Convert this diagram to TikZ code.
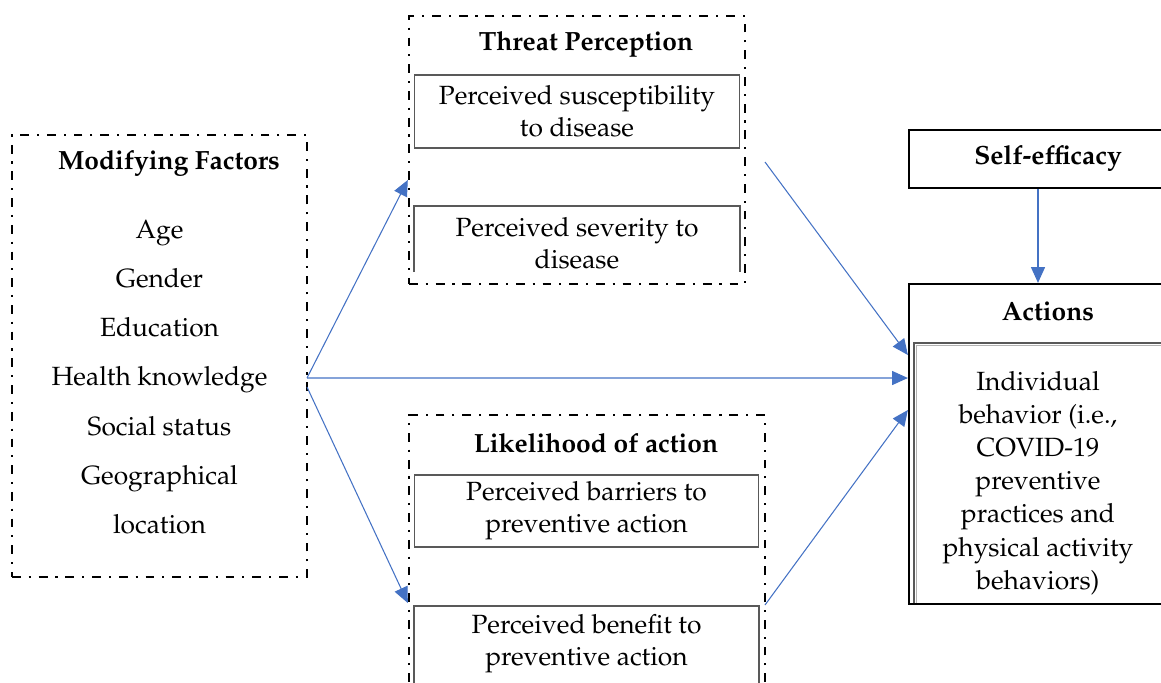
\documentclass[tikz,border=0pt]{standalone}
\usepackage[T1]{fontenc}
\usepackage{mathpazo}
\usetikzlibrary{positioning, calc, arrows.meta}
\definecolor{linkblue}{HTML}{4472C4}
\definecolor{boxgrey}{HTML}{595959}

\begin{document}
\begin{tikzpicture}[x=0.02cm, y=-0.02cm,
    frame/.style={draw, line width=1.4pt, dash pattern=on 5pt off 4.5pt on 1.2pt off 4.5pt, inner sep=0pt},
    solidbox/.style={draw, line width=1.3pt, inner sep=0pt},
    inbox/.style={draw=boxgrey, line width=0.6pt, inner sep=0pt, align=center, font=\fontsize{15}{18.1}\selectfont},
    txt/.style={align=center, inner sep=0pt, font=\fontsize{15}{18.9}\selectfont},
    title/.style={inner sep=0pt, font=\fontsize{15}{18}\selectfont\bfseries},
    link/.style={draw=linkblue, line width=0.6pt, -{Triangle[length=9pt, width=8pt]}}]
			\useasboundingbox (0,0) rectangle (1161,683);
			\clip (0,0) rectangle (1161,683);

			% outer frames
			\node[frame, minimum width=5.9cm, minimum height=8.84cm] (mod) at (159.5,356) {};
			\node[frame, minimum width=6.72cm, minimum height=5.36cm] (threat) at (577,150) {};
			\node[frame, minimum width=7.12cm, minimum height=5.7cm] (like) at (587,557.5) {};
			\node[solidbox, minimum width=5.56cm, minimum height=1.16cm] (self) at (1048,159) {};
			\node[solidbox, minimum width=5.56cm, minimum height=6.4cm] (act) at (1048,444) {};

			% titles
			\node[title] (modt) at (169,163) {Modifying Factors};
			\node[title] (threatt) at (586,44) {Threat Perception};
			\node[title] (liket) at (596,443) {Likelihood of action};
			\node[title] (selft) at (1048,158) {Self-efficacy};
			\node[title] (actt) at (1048,311) {Actions};

			% contents
			\node[txt, font=\fontsize{15}{28}\selectfont] (modlist) at (159.5,377) {Age\\Gender\\Education\\Health knowledge\\Social status\\Geographical\\location};
			\node[inbox, minimum width=6.52cm, minimum height=1.46cm] (sus) at (577,111.5) {Perceived susceptibility\\to disease};
			\node[inbox, draw=none] (sev) at (577,243.5) {Perceived severity to\\disease};
			\draw[boxgrey, line width=0.6pt] (414,272) |- (740,206) -- (740,272);
			\node[inbox, minimum width=6.9cm, minimum height=1.44cm] (bar) at (586.5,511) {Perceived barriers to\\preventive action};
			\node[inbox, draw=none] (ben) at (586.5,643.5) {Perceived benefit to\\preventive action};
			\draw[boxgrey, line width=0.6pt] (414,700) |- (759,606) -- (759,700);
			\draw[boxgrey, line width=0.8pt] (1190,343) -| (914,603);
			\draw[gray!60, line width=0.5pt] (916.5,603) -- (916.5,345.5) -- (1190,345.5);
			\node[txt] (beh) at (1038,483) {Individual\\behavior (i.e.,\\COVID-19\\preventive\\practices and\\physical activity\\behaviors)};

			% connectors
			\coordinate (hub) at (307,378);
			\coordinate (hublow) at (307,387);
			\coordinate (threatout) at (765,162);
			\coordinate (likeout) at (765,605);
			\draw[link] (hub) -- ([yshift=-0.6cm]threat.west);
			\draw[link] (hub) -- ([yshift=1.32cm]act.west);
			\draw[link] (hublow) -- ([yshift=-0.91cm]like.west);
			\draw[link] (threatout) -- ([yshift=1.78cm]act.west);
			\draw[link] (likeout) -- ([yshift=0.68cm]act.west);
			\draw[link] ([xshift=-0.2cm]self.south) -- ([xshift=-0.2cm]act.north);
		\end{tikzpicture}
\end{document}
